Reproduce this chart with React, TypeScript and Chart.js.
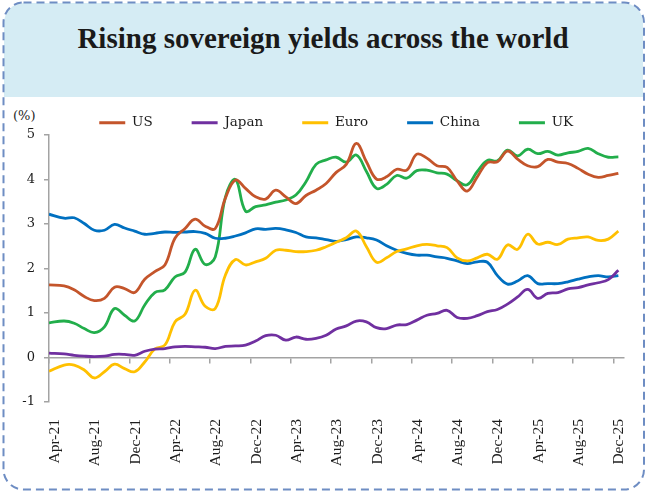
import React, { useEffect, useRef } from "react";
import { Chart, registerables } from "chart.js";

Chart.register(...registerables);

// Monthly categories (Apr-21 .. Dec-25)
const months = [
  "Apr-21", "May-21", "Jun-21", "Jul-21", "Aug-21", "Sep-21", "Oct-21", "Nov-21", "Dec-21",
  "Jan-22", "Feb-22", "Mar-22", "Apr-22", "May-22", "Jun-22", "Jul-22", "Aug-22", "Sep-22", "Oct-22", "Nov-22", "Dec-22",
  "Jan-23", "Feb-23", "Mar-23", "Apr-23", "May-23", "Jun-23", "Jul-23", "Aug-23", "Sep-23", "Oct-23", "Nov-23", "Dec-23",
  "Jan-24", "Feb-24", "Mar-24", "Apr-24", "May-24", "Jun-24", "Jul-24", "Aug-24", "Sep-24", "Oct-24", "Nov-24", "Dec-24",
  "Jan-25", "Feb-25", "Mar-25", "Apr-25", "May-25", "Jun-25", "Jul-25", "Aug-25", "Sep-25", "Oct-25", "Nov-25", "Dec-25",
];

// 10-year sovereign yields (%), monthly
const usYield = [
  1.63, 1.61, 1.52, 1.37, 1.28, 1.33, 1.58, 1.55, 1.46, 1.76,
  1.93, 2.08, 2.68, 2.90, 3.11, 2.95, 2.90, 3.58, 3.99, 3.80,
  3.61, 3.56, 3.76, 3.61, 3.46, 3.64, 3.76, 3.91, 4.16, 4.34,
  4.81, 4.40, 4.01, 4.06, 4.23, 4.21, 4.57, 4.48, 4.31, 4.27,
  3.97, 3.74, 4.06, 4.38, 4.40, 4.64, 4.46, 4.31, 4.29, 4.45,
  4.39, 4.36, 4.25, 4.12, 4.05, 4.09, 4.14,
];
const japanYield = [
  0.10, 0.08, 0.05, 0.03, 0.02, 0.03, 0.07, 0.07, 0.05, 0.14,
  0.19, 0.20, 0.24, 0.25, 0.24, 0.23, 0.20, 0.25, 0.26, 0.28,
  0.37, 0.49, 0.50, 0.39, 0.46, 0.41, 0.43, 0.50, 0.64, 0.71,
  0.82, 0.80, 0.67, 0.65, 0.73, 0.74, 0.84, 0.95, 0.99, 1.06,
  0.90, 0.88, 0.94, 1.03, 1.08, 1.20, 1.36, 1.53, 1.33, 1.44,
  1.46, 1.54, 1.57, 1.63, 1.68, 1.75, 1.96,
];
const euroYield = [
  -0.31, -0.17, -0.17, -0.28, -0.46, -0.32, -0.15, -0.25, -0.32, -0.10,
  0.19, 0.28, 0.80, 0.97, 1.51, 1.15, 1.10, 1.85, 2.20, 2.08,
  2.15, 2.23, 2.41, 2.41, 2.38, 2.38, 2.41, 2.49, 2.59, 2.69,
  2.84, 2.49, 2.14, 2.24, 2.38, 2.44, 2.51, 2.54, 2.51, 2.47,
  2.24, 2.17, 2.24, 2.32, 2.21, 2.53, 2.43, 2.77, 2.55, 2.59,
  2.54, 2.66, 2.69, 2.71, 2.63, 2.66, 2.84,
];
const chinaYield = [
  3.22, 3.13, 3.14, 3.01, 2.86, 2.86, 2.99, 2.91, 2.84, 2.77,
  2.79, 2.82, 2.81, 2.82, 2.83, 2.79, 2.68, 2.68, 2.73, 2.80,
  2.89, 2.88, 2.90, 2.87, 2.81, 2.71, 2.69, 2.65, 2.61, 2.65,
  2.71, 2.69, 2.64, 2.51, 2.41, 2.34, 2.30, 2.30, 2.26, 2.23,
  2.17, 2.11, 2.15, 2.14, 1.84, 1.65, 1.72, 1.84, 1.66, 1.66,
  1.66, 1.70, 1.76, 1.81, 1.84, 1.81, 1.84,
];
const ukYield = [
  0.78, 0.82, 0.77, 0.65, 0.56, 0.69, 1.10, 0.95, 0.82, 1.18,
  1.46, 1.52, 1.81, 1.92, 2.43, 2.09, 2.26, 3.60, 4.00, 3.29,
  3.39, 3.43, 3.49, 3.54, 3.65, 3.95, 4.34, 4.44, 4.50, 4.39,
  4.55, 4.18, 3.80, 3.89, 4.09, 4.03, 4.20, 4.21, 4.15, 4.12,
  3.97, 3.88, 4.18, 4.43, 4.42, 4.66, 4.53, 4.68, 4.58, 4.63,
  4.55, 4.60, 4.63, 4.70, 4.58, 4.50, 4.51,
];

const seriesNames = ["US", "Japan", "Euro", "China", "UK"];
const seriesColors = ["#C4552B", "#7030A0", "#FFC000", "#0070C0", "#22AE4B"];
const seriesValues = [usYield, japanYield, euroYield, chinaYield, ukYield];

const tickEvery = 4; // a label every 4 months
const yMin = -1;
const yMax = 5;
const yStep = 1;

const AXIS = "#A3A3A3";
const TEXT = "#1c1c1c";

// monthly averages sit mid-month; the first point starts at the axis
const monthPos = (i: number) => (i === 0 ? 0 : i + 0.5);

export default function App() {
  const ref = useRef<HTMLCanvasElement | null>(null);

  useEffect(() => {
    if (!ref.current) return;
    const xMax = months.length;
    const chart = new Chart(ref.current, {
      type: "line",
      data: {
        datasets: seriesValues.map((vals, k) => ({
          label: seriesNames[k],
          data: vals.map((v, i) => ({ x: monthPos(i), y: v })),
          borderColor: seriesColors[k],
          backgroundColor: seriesColors[k],
          borderWidth: 2.8,
          pointRadius: 0,
          pointHoverRadius: 0,
          tension: 0.4,
          fill: false,
          xAxisID: "x",
          yAxisID: "y",
        })),
      },
      options: {
        animation: false,
        responsive: false,
        maintainAspectRatio: false,
        events: [],
        layout: { padding: { top: 77, left: 0, right: 22.6, bottom: 0 } },
        plugins: {
          tooltip: { enabled: false },
          legend: {
            position: "top",
            fullSize: false,
            maxHeight: 58,
            labels: {
              boxWidth: 26,
              boxHeight: 0,
              padding: 39,
              color: TEXT,
              font: { family: "DejaVu Serif", size: 13.5 },
            },
          },
        },
        scales: {
          x: {
            type: "linear",
            position: "bottom",
            min: 0,
            max: xMax,
            grid: { display: false },
            border: { display: false },
            ticks: {
              stepSize: tickEvery,
              autoSkip: false,
              includeBounds: false,
              minRotation: 90,
              maxRotation: 90,
              padding: 9,
              labelOffset: 6,
              color: TEXT,
              font: { family: "Liberation Serif", size: 15.5 },
              callback: (v: any) => {
                const n = Number(v);
                return n % tickEvery === 0 && months[n] ? months[n] : "";
              },
            },
            afterFit: (s: any) => {
              s.height = 96;
              s.paddingLeft = 0;
              s.paddingRight = 0;
            },
          },
          xz: {
            type: "linear",
            position: { y: 0 },
            min: 0,
            max: xMax,
            grid: { drawOnChartArea: false, drawTicks: true, tickLength: 5, color: AXIS, lineWidth: 1.5 },
            border: { display: true, color: AXIS, width: 1.5 },
            ticks: { display: false, stepSize: tickEvery, includeBounds: false, autoSkip: false },
          },
          y: {
            type: "linear",
            min: yMin,
            max: yMax,
            grid: { drawOnChartArea: false, drawTicks: true, tickLength: 5, color: AXIS, lineWidth: 1.5 },
            border: { display: true, color: AXIS, width: 1.5 },
            ticks: {
              stepSize: yStep,
              padding: 9,
              color: TEXT,
              font: { family: "DejaVu Serif", size: 13 },
            },
            afterFit: (s: any) => {
              s.width = 49;
            },
          },
        },
      } as any,
    });
    return () => chart.destroy();
  }, []);

  return (
    <div style={{ position: "fixed", left: 0, top: 0, width: 646, height: 498, background: "#fff", overflow: "hidden" }}>
      <div
        style={{
          position: "absolute",
          left: 4,
          top: 3,
          width: 639,
          height: 486,
          borderRadius: 20,
          overflow: "hidden",
          background: "#fff",
        }}
      >
        <div style={{ height: 94, background: "#D5ECF4" }} />
      </div>
      <svg
        width={646}
        height={498}
        style={{ position: "absolute", left: 0, top: 0 }}
      >
        <rect
          x={3.5}
          y={2.5}
          width={640.5}
          height={487}
          rx={20}
          ry={20}
          fill="none"
          stroke="#6E8DC3"
          strokeWidth={2}
          strokeDasharray="8 5"
        />
      </svg>
      <div
        style={{
          position: "absolute",
          left: 0,
          top: 22,
          width: 646,
          textAlign: "center",
          fontFamily: "'Liberation Serif', serif",
          fontWeight: "bold",
          fontSize: 29,
          lineHeight: "33px",
          color: "#1a1a1a",
        }}
      >
        Rising sovereign yields across the world
      </div>
      <div
        style={{
          position: "absolute",
          left: 13,
          top: 108,
          fontFamily: "'DejaVu Serif', serif",
          fontSize: 13,
          lineHeight: "16px",
          color: TEXT,
        }}
      >
        (%)
      </div>
      <canvas
        ref={ref}
        width={646}
        height={498}
        style={{ position: "absolute", left: 0, top: 0, width: 646, height: 498 }}
      />
    </div>
  );
}
